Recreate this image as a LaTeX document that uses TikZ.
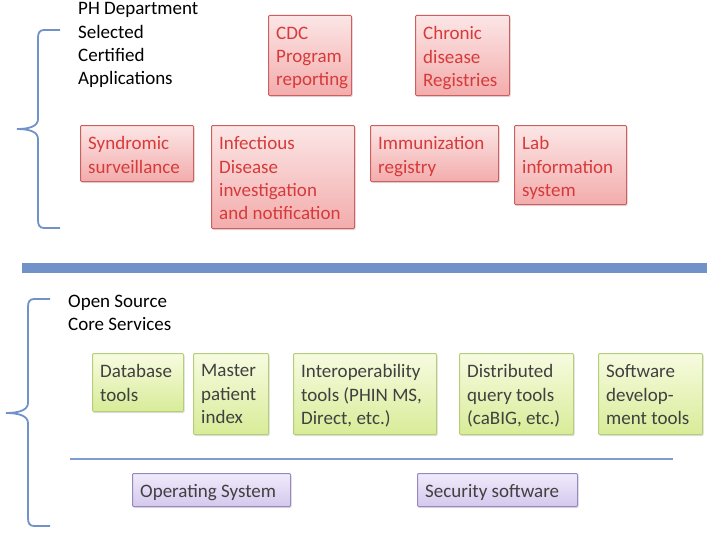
\documentclass[tikz,border=0pt]{standalone}
\usepackage{fontspec}
\setmainfont{Carlito}
\usetikzlibrary{shadows}
\definecolor{redline}{RGB}{205,95,95}
\definecolor{redtop}{RGB}{252,230,230}
\definecolor{redbot}{RGB}{243,172,172}
\definecolor{redtext}{RGB}{215,58,58}
\definecolor{grnline}{RGB}{182,206,122}
\definecolor{grntop}{RGB}{247,251,224}
\definecolor{grnbot}{RGB}{216,236,152}
\definecolor{purline}{RGB}{152,136,192}
\definecolor{purtop}{RGB}{240,235,251}
\definecolor{purbot}{RGB}{212,200,237}
\definecolor{darktext}{RGB}{64,64,64}
\definecolor{barblue}{RGB}{112,146,200}
\tikzset{
  box/.style={draw, line width=1pt, rounded corners=1pt, anchor=north west, inner sep=0pt,
    drop shadow={shadow xshift=1pt,shadow yshift=-1.5pt,opacity=0.25}},
  redbox/.style={box, draw=redline, top color=redtop, bottom color=redbot},
  grnbox/.style={box, draw=grnline, top color=grntop, bottom color=grnbot},
  purbox/.style={box, draw=purline, top color=purtop, bottom color=purbot},
  lbl/.style={anchor=north west, inner sep=0pt, align=left, font=\fontsize{19}{23.3}\selectfont},
  redlbl/.style={lbl, text=redtext},
  darklbl/.style={lbl, text=darktext},
  brace/.style={draw=barblue, line width=1.8pt},
}
% style, name, x, y, w, h, label style, text
\newcommand\bx[8]{%
  \node[#1, minimum width=#5pt, minimum height=#6pt] (#2) at (#3,-#4) {};
  \node[#7] (#2t) at ([shift={(8,-11.5)}]#2.north west) {#8};
}
\begin{document}
\begin{tikzpicture}[x=1pt,y=1pt]
\useasboundingbox (0,0) rectangle (711,-535);

% headings
\node[lbl] (ph) at (78,-2.5) {PH Department\\Selected\\Certified\\Applications};
\node[lbl] (os) at (68,-294.5) {Open Source\\Core Services};

% braces
\draw[brace] (60,-30) -- (44,-30) .. controls (39.5,-30) and (38,-33) .. (38,-38) -- (38,-119)
  .. controls (38,-126) and (30,-129) .. (17,-129)
  .. controls (30,-129) and (38,-132) .. (38,-139) -- (38,-220)
  .. controls (38,-225) and (39.5,-228) .. (44,-228) -- (60,-228);
\draw[brace] (50,-299) -- (34,-299) .. controls (29.5,-299) and (28,-302) .. (28,-307) -- (28,-403)
  .. controls (28,-410) and (19,-413) .. (6,-413)
  .. controls (19,-413) and (28,-416) .. (28,-423) -- (28,-518)
  .. controls (28,-523) and (29.5,-526) .. (34,-526) -- (50,-526);

% red application boxes
\bx{redbox}{cdc}{268}{15}{83}{80}{redlbl}{CDC\\Program\\reporting}
\bx{redbox}{chr}{415}{15}{94}{80}{redlbl}{Chronic\\disease\\Registries}
\bx{redbox}{syn}{80}{125}{113}{56}{redlbl}{Syndromic\\surveillance}
\bx{redbox}{inf}{211}{125}{143}{103}{redlbl}{Infectious\\Disease\\investigation\\and notification}
\bx{redbox}{imm}{370}{125}{128}{56}{redlbl}{Immunization\\registry}
\bx{redbox}{lab}{514}{125}{112}{79}{redlbl}{Lab\\information\\system}

% separator bar
\fill[barblue] (22,-263) rectangle (707,-273);

% green core service boxes
\bx{grnbox}{db}{92}{353}{91}{58}{darklbl}{Database\\tools}
\bx{grnbox}{mpi}{193}{353}{75}{81}{darklbl}{Master\\patient\\index}
\bx{grnbox}{iop}{293}{353}{143}{81}{darklbl}{Interoperability\\tools (PHIN MS,\\Direct, etc.)}
\bx{grnbox}{dq}{459}{353}{114}{81}{darklbl}{Distributed\\query tools\\(caBIG, etc.)}
\bx{grnbox}{sdt}{598}{353}{104}{81}{darklbl}{Software\\develop-\\ment tools}

% thin line
\draw[barblue!90, line width=1.8pt] (70,-459) -- (673,-459);

% purple boxes
\bx{purbox}{opsys}{132}{473}{158}{33}{darklbl}{Operating System}
\bx{purbox}{sec}{417}{473}{160}{33}{darklbl}{Security software}
\end{tikzpicture}
\end{document}
